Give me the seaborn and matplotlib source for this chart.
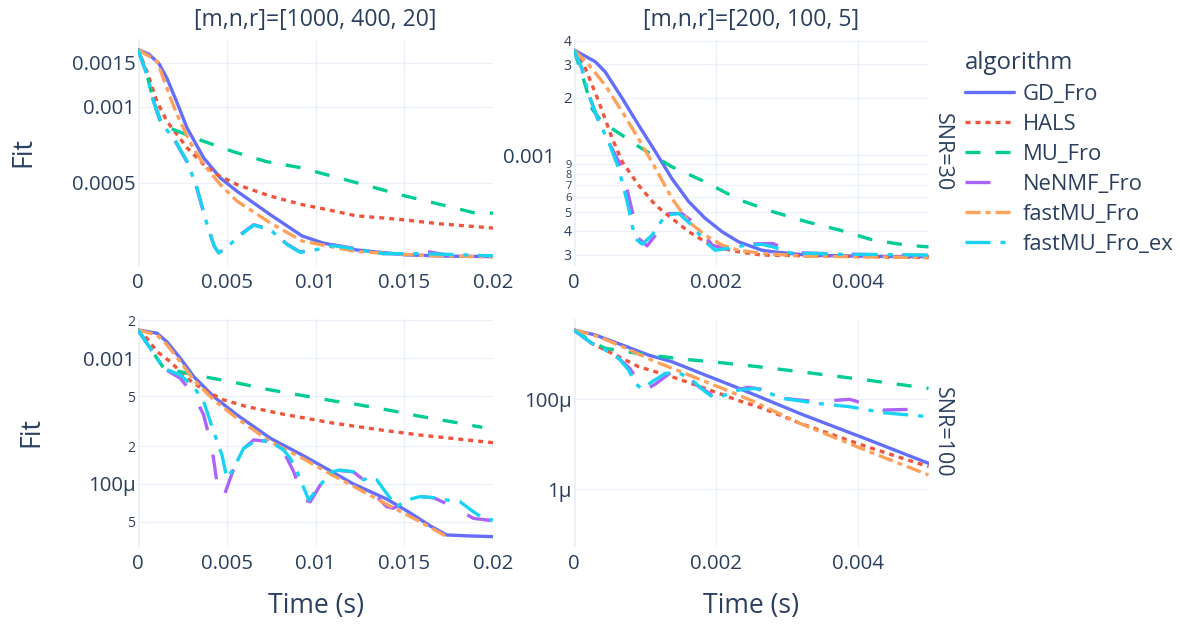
import matplotlib
matplotlib.use("Agg")
import matplotlib.pyplot as plt
import seaborn as sns
import pandas as pd
from matplotlib.lines import Line2D
from matplotlib.ticker import NullLocator
from matplotlib.transforms import ScaledTranslation

# ---------------- labels ----------------
algorithms = ["GD_Fro", "HALS", "MU_Fro", "NeNMF_Fro", "fastMU_Fro", "fastMU_Fro_ex"]
col_titles = ["[m,n,r]=[1000, 400, 20]", "[m,n,r]=[200, 100, 5]"]
row_titles = ["SNR=30", "SNR=100"]
x_label = "Time (s)"
y_label = "Fit"

xticks_left = [0, 0.005, 0.01, 0.015, 0.02]
xticklabels_left = ["0", "0.005", "0.01", "0.015", "0.02"]
xticks_right = [0, 0.002, 0.004]
xticklabels_right = ["0", "0.002", "0.004"]

yticks_tl = [1.5e-3, 1e-3, 5e-4]
yticklabels_tl = ["0.0015", "0.001", "0.0005"]
yticks_tr = [4e-3, 3e-3, 2e-3, 1e-3, 9e-4, 8e-4, 7e-4, 6e-4, 5e-4, 4e-4, 3e-4]
yticklabels_tr = ["4", "3", "2", "0.001", "9", "8", "7", "6", "5", "4", "3"]
yticks_bl = [2e-3, 1e-3, 5e-4, 2e-4, 1e-4, 5e-5]
yticklabels_bl = ["2", "0.001", "5", "2", "100μ", "5"]
yticks_br = [1e-4, 1e-6]
yticklabels_br = ["100μ", "1μ"]

# ---------------- data: top-left (SNR=30, [1000,400,20]) ----------------
tl_gd_t = [0, 0.0006, 0.00117, 0.00163, 0.0022, 0.00276, 0.0037, 0.00464, 0.00558, 0.00745, 0.00924, 0.0104, 0.0123, 0.0151, 0.0175, 0.02]
tl_gd_fit = [1.69e-3, 1.62e-3, 1.49e-3, 1.30e-3, 1.04e-3, 8.26e-4, 6.28e-4, 5.23e-4, 4.63e-4, 3.74e-4, 3.08e-4, 2.89e-4, 2.71e-4, 2.59e-4, 2.56e-4, 2.55e-4]
tl_hals_t = [0, 0.00051, 0.00107, 0.00163, 0.00276, 0.0037, 0.00445, 0.00558, 0.00745, 0.00924, 0.0104, 0.0123, 0.0146, 0.017, 0.02]
tl_hals_fit = [1.69e-3, 1.38e-3, 1.05e-3, 8.78e-4, 6.89e-4, 5.91e-4, 5.39e-4, 4.92e-4, 4.43e-4, 4.10e-4, 3.95e-4, 3.70e-4, 3.59e-4, 3.44e-4, 3.31e-4]
tl_mu_t = [0, 0.00051, 0.00088, 0.00132, 0.0016, 0.00348, 0.00536, 0.00724, 0.00912, 0.011, 0.0129, 0.0148, 0.0167, 0.0189, 0.02]
tl_mu_fit = [1.69e-3, 1.34e-3, 1.05e-3, 8.48e-4, 8.35e-4, 7.40e-4, 6.65e-4, 6.07e-4, 5.75e-4, 5.30e-4, 4.88e-4, 4.48e-4, 4.16e-4, 3.81e-4, 3.79e-4]
tl_nenmf_t = [0, 0.00051, 0.00088, 0.00135, 0.00201, 0.00276, 0.00332, 0.00389, 0.0043, 0.00455, 0.00501, 0.00558, 0.00652, 0.00745, 0.00839, 0.00913, 0.01007, 0.0110, 0.0123, 0.0138, 0.0155, 0.0163, 0.0175, 0.02]
tl_nenmf_fit = [1.69e-3, 1.34e-3, 1.05e-3, 8.51e-4, 7.50e-4, 6.05e-4, 4.75e-4, 3.40e-4, 2.80e-4, 2.64e-4, 2.78e-4, 3.05e-4, 3.41e-4, 3.27e-4, 2.86e-4, 2.66e-4, 2.73e-4, 2.84e-4, 2.74e-4, 2.62e-4, 2.62e-4, 2.67e-4, 2.58e-4, 2.56e-4]
tl_fast_t = [0, 0.00107, 0.00182, 0.0022, 0.0029, 0.0037, 0.00464, 0.00558, 0.00745, 0.00924, 0.0123, 0.0159, 0.02]
tl_fast_fit = [1.69e-3, 1.52e-3, 1.09e-3, 9.32e-4, 7.30e-4, 5.91e-4, 4.92e-4, 4.23e-4, 3.47e-4, 2.94e-4, 2.67e-4, 2.58e-4, 2.54e-4]
tl_fastex_t = [0, 0.00051, 0.00088, 0.00135, 0.00201, 0.00276, 0.00332, 0.00389, 0.0043, 0.00455, 0.00501, 0.00558, 0.00652, 0.00745, 0.00839, 0.00913, 0.01007, 0.0110, 0.0123, 0.0138, 0.0161, 0.0198, 0.02]
tl_fastex_fit = [1.69e-3, 1.34e-3, 1.05e-3, 8.51e-4, 7.54e-4, 6.09e-4, 4.78e-4, 3.42e-4, 2.80e-4, 2.64e-4, 2.77e-4, 3.03e-4, 3.40e-4, 3.26e-4, 2.85e-4, 2.65e-4, 2.72e-4, 2.82e-4, 2.73e-4, 2.62e-4, 2.62e-4, 2.57e-4, 2.57e-4]

# ---------------- data: top-right (SNR=30, [200,100,5]) ----------------
tr_gd_t = [0, 0.0003, 0.00044, 0.00068, 0.00091, 0.00115, 0.00138, 0.00162, 0.00185, 0.00209, 0.00232, 0.00265, 0.00281, 0.00328, 0.004, 0.005]
tr_gd_fit = [3.57e-3, 3.10e-3, 2.74e-3, 1.99e-3, 1.44e-3, 1.04e-3, 7.53e-4, 5.68e-4, 4.65e-4, 3.95e-4, 3.50e-4, 3.16e-4, 3.10e-4, 2.98e-4, 2.94e-4, 2.92e-4]
tr_hals_t = [0, 0.00016, 0.00035, 0.00054, 0.00068, 0.00091, 0.00115, 0.00138, 0.00162, 0.00185, 0.00209, 0.00232, 0.00265, 0.005]
tr_hals_fit = [3.57e-3, 2.86e-3, 1.91e-3, 1.22e-3, 9.22e-4, 6.95e-4, 5.45e-4, 4.65e-4, 3.95e-4, 3.50e-4, 3.23e-4, 3.10e-4, 2.98e-4, 2.89e-4]
tr_mu_t = [0, 0.00016, 0.00025, 0.00039, 0.00068, 0.00091, 0.00115, 0.00138, 0.00185, 0.00234, 0.00281, 0.00328, 0.00375, 0.00422, 0.00469, 0.005]
tr_mu_fit = [3.57e-3, 2.33e-3, 1.76e-3, 1.50e-3, 1.27e-3, 1.11e-3, 9.80e-4, 8.68e-4, 7.23e-4, 5.80e-4, 5.03e-4, 4.46e-4, 4.03e-4, 3.57e-4, 3.36e-4, 3.29e-4]
tr_nenmf_t = [0, 0.00011, 0.00021, 0.00035, 0.00049, 0.00068, 0.00079, 0.00091, 0.00103, 0.00115, 0.00134, 0.00152, 0.00171, 0.00195, 0.00213, 0.0024, 0.0028, 0.003, 0.0032, 0.00389, 0.005]
tr_nenmf_fit = [3.57e-3, 2.86e-3, 2.07e-3, 1.50e-3, 1.17e-3, 8.51e-4, 5.68e-4, 3.65e-4, 3.33e-4, 3.79e-4, 4.93e-4, 4.93e-4, 4.37e-4, 3.36e-4, 3.20e-4, 3.40e-4, 3.43e-4, 3.20e-4, 3.06e-4, 3.01e-4, 2.96e-4]
tr_fast_t = [0, 0.00021, 0.00044, 0.00068, 0.00091, 0.00115, 0.00138, 0.00162, 0.00185, 0.00209, 0.00232, 0.00265, 0.00327, 0.005]
tr_fast_fit = [3.57e-3, 2.98e-3, 2.33e-3, 1.69e-3, 1.22e-3, 8.51e-4, 5.92e-4, 4.46e-4, 3.79e-4, 3.36e-4, 3.16e-4, 3.04e-4, 2.94e-4, 2.89e-4]
tr_fastex_t = [0, 0.00011, 0.00021, 0.00035, 0.00049, 0.00063, 0.00075, 0.00086, 0.00096, 0.0011, 0.00129, 0.00148, 0.00166, 0.00185, 0.00199, 0.00218, 0.00242, 0.00265, 0.00281, 0.00305, 0.00375, 0.005]
tr_fastex_fit = [3.57e-3, 2.86e-3, 2.07e-3, 1.50e-3, 1.17e-3, 8.51e-4, 5.68e-4, 3.65e-4, 3.40e-4, 3.79e-4, 4.83e-4, 4.93e-4, 4.28e-4, 3.50e-4, 3.16e-4, 3.23e-4, 3.36e-4, 3.39e-4, 3.29e-4, 3.06e-4, 3.01e-4, 2.98e-4]

# ---------------- data: bottom-left (SNR=100, [1000,400,20]) ----------------
bl_gd_t = [0, 0.00107, 0.00163, 0.00238, 0.00314, 0.00426, 0.00558, 0.00745, 0.00934, 0.01093, 0.01213, 0.0140, 0.01532, 0.01645, 0.01739, 0.0187, 0.02]
bl_gd_fit = [1.68e-3, 1.58e-3, 1.35e-3, 1.00e-3, 7.14e-4, 4.95e-4, 3.54e-4, 2.31e-4, 1.67e-4, 1.25e-4, 1.0e-4, 7.6e-5, 5.9e-5, 4.65e-5, 3.93e-5, 3.86e-5, 3.81e-5]
bl_hals_t = [0, 0.00051, 0.00107, 0.00182, 0.00276, 0.0037, 0.00483, 0.00614, 0.00839, 0.01093, 0.01213, 0.0140, 0.01589, 0.01814, 0.02]
bl_hals_fit = [1.68e-3, 1.44e-3, 1.13e-3, 9.4e-4, 6.93e-4, 5.6e-4, 4.66e-4, 4.12e-4, 3.54e-4, 3.06e-4, 2.89e-4, 2.65e-4, 2.45e-4, 2.27e-4, 2.13e-4]
bl_mu_t = [0, 0.00069, 0.00145, 0.0037, 0.00537, 0.00745, 0.0110, 0.0123, 0.0144, 0.0159, 0.0178, 0.0194]
bl_mu_fit = [1.68e-3, 1.20e-3, 8.32e-4, 7.14e-4, 6.45e-4, 5.6e-4, 4.58e-4, 4.3e-4, 3.8e-4, 3.45e-4, 3.1e-4, 2.82e-4]
bl_nenmf_t = [0, 0.00069, 0.00107, 0.00145, 0.00238, 0.00314, 0.0037, 0.00417, 0.00436, 0.00455, 0.00483, 0.0052, 0.00576, 0.00652, 0.00745, 0.00821, 0.00877, 0.00934, 0.00971, 0.01027, 0.0110, 0.01213, 0.01307, 0.01363, 0.01401, 0.01438, 0.01514, 0.01589, 0.01664, 0.01776, 0.01889, 0.02]
bl_nenmf_fit = [1.68e-3, 1.20e-3, 1.0e-3, 8.32e-4, 6.93e-4, 5.11e-4, 3.54e-4, 1.92e-4, 1.25e-4, 8.18e-5, 7.93e-5, 1.11e-4, 1.81e-4, 2.24e-4, 2.17e-4, 1.81e-4, 1.25e-4, 7.46e-5, 7.23e-5, 9.82e-5, 1.29e-4, 1.25e-4, 9.82e-5, 7.46e-5, 6.6e-5, 6.41e-5, 7.23e-5, 7.93e-5, 7.78e-5, 6.6e-5, 5.33e-5, 5.10e-5]
bl_fast_t = [0, 0.00107, 0.00163, 0.00238, 0.00314, 0.00426, 0.00558, 0.00745, 0.00934, 0.01093, 0.01213, 0.0140, 0.0159, 0.01748]
bl_fast_fit = [1.68e-3, 1.53e-3, 1.28e-3, 9.40e-4, 6.72e-4, 4.66e-4, 3.33e-4, 2.17e-4, 1.58e-4, 1.18e-4, 9.6e-5, 6.9e-5, 5.0e-5, 3.75e-5]
bl_fastex_t = [0, 0.00069, 0.00145, 0.00238, 0.00314, 0.0037, 0.00426, 0.00473, 0.00501, 0.00539, 0.00595, 0.0067, 0.00745, 0.00821, 0.00858, 0.00896, 0.00962, 0.01027, 0.01093, 0.01138, 0.01213, 0.0127, 0.01307, 0.01345, 0.0140, 0.01458, 0.01514, 0.01589, 0.01664, 0.01739, 0.01814, 0.01889, 0.01946, 0.02]
bl_fastex_fit = [1.68e-3, 1.20e-3, 8.32e-4, 7.36e-4, 5.94e-4, 4.52e-4, 2.61e-4, 1.70e-4, 1.11e-4, 1.33e-4, 1.92e-4, 2.24e-4, 2.17e-4, 1.86e-4, 1.60e-4, 1.25e-4, 7.46e-5, 9.82e-5, 1.25e-4, 1.29e-4, 1.25e-4, 1.08e-4, 1.13e-4, 1.08e-4, 8.43e-5, 6.60e-5, 7.46e-5, 7.93e-5, 7.78e-5, 7.46e-5, 7.23e-5, 6.02e-5, 5.33e-5, 5.17e-5]

# ---------------- data: bottom-right (SNR=100, [200,100,5]) ----------------
br_gd_t = [0, 0.0003, 0.00068, 0.00105, 0.00138, 0.00185, 0.00225, 0.00265, 0.00319, 0.00413, 0.005]
br_gd_fit = [3.47e-3, 2.69e-3, 1.61e-3, 9.64e-4, 6.85e-4, 3.47e-4, 1.96e-4, 1.08e-4, 4.8e-5, 1.30e-5, 3.78e-6]
br_hals_t = [0, 0.00025, 0.00068, 0.00091, 0.00138, 0.00185, 0.00232, 0.00265, 0.00319, 0.00413, 0.005]
br_hals_fit = [3.47e-3, 1.75e-3, 8.15e-4, 5.30e-4, 3.18e-4, 1.75e-4, 9.4e-5, 6.4e-5, 2.93e-5, 8.85e-6, 3.18e-6]
br_mu_t = [0, 0.00025, 0.00044, 0.00105, 0.00162, 0.002, 0.0026, 0.00319, 0.00413, 0.005]
br_mu_fit = [3.47e-3, 1.90e-3, 1.36e-3, 9.6e-4, 7.6e-4, 6.7e-4, 5.3e-4, 4.1e-4, 2.68e-4, 1.75e-4]
br_nenmf_t = [0, 0.00025, 0.00044, 0.00063, 0.00079, 0.00091, 0.00101, 0.00115, 0.00138, 0.00157, 0.00176, 0.00195, 0.00215, 0.00245, 0.00272, 0.00295, 0.00342, 0.00389, 0.0042, 0.00436, 0.0048, 0.005]
br_nenmf_fit = [3.47e-3, 1.75e-3, 1.25e-3, 8.15e-4, 4.8e-4, 2.5e-4, 1.61e-4, 2.2e-4, 4.1e-4, 3.6e-4, 1.91e-4, 1.25e-4, 1.4e-4, 1.85e-4, 1.61e-4, 1.05e-4, 8.85e-5, 1.0e-4, 7.0e-5, 5.78e-5, 6.0e-5, 5.3e-5]
br_fast_t = [0, 0.00035, 0.00068, 0.00115, 0.00162, 0.00209, 0.00251, 0.00319, 0.00413, 0.005]
br_fast_fit = [3.47e-3, 2.46e-3, 1.48e-3, 6.85e-4, 3.47e-4, 1.75e-4, 9.3e-5, 2.9e-5, 7.2e-6, 2.08e-6]
br_fastex_t = [0, 0.00025, 0.00044, 0.00063, 0.00077, 0.00086, 0.00096, 0.0011, 0.00129, 0.00148, 0.00166, 0.00185, 0.00195, 0.00209, 0.00232, 0.00256, 0.00295, 0.00342, 0.00389, 0.00436, 0.005]
br_fastex_fit = [3.47e-3, 1.75e-3, 1.25e-3, 8.15e-4, 4.48e-4, 2.27e-4, 1.70e-4, 2.46e-4, 3.78e-4, 3.90e-4, 2.68e-4, 1.48e-4, 1.14e-4, 1.18e-4, 1.61e-4, 1.75e-4, 1.05e-4, 8.15e-5, 6.85e-5, 5.04e-5, 4.10e-5]

# y-axis ranges per panel
ylim_tl = (2.34e-4, 1.86e-3)
ylim_tr = (2.61e-4, 4.08e-3)
ylim_bl = (3.17e-5, 2.07e-3)
ylim_br = (5.3e-8, 6.25e-3)
xlim_left = (0, 0.02)
xlim_right = (0, 0.005)

# ---------------- build table ----------------
panel_series = {
    "tl": [(tl_gd_t, tl_gd_fit), (tl_hals_t, tl_hals_fit), (tl_mu_t, tl_mu_fit),
           (tl_nenmf_t, tl_nenmf_fit), (tl_fast_t, tl_fast_fit), (tl_fastex_t, tl_fastex_fit)],
    "tr": [(tr_gd_t, tr_gd_fit), (tr_hals_t, tr_hals_fit), (tr_mu_t, tr_mu_fit),
           (tr_nenmf_t, tr_nenmf_fit), (tr_fast_t, tr_fast_fit), (tr_fastex_t, tr_fastex_fit)],
    "bl": [(bl_gd_t, bl_gd_fit), (bl_hals_t, bl_hals_fit), (bl_mu_t, bl_mu_fit),
           (bl_nenmf_t, bl_nenmf_fit), (bl_fast_t, bl_fast_fit), (bl_fastex_t, bl_fastex_fit)],
    "br": [(br_gd_t, br_gd_fit), (br_hals_t, br_hals_fit), (br_mu_t, br_mu_fit),
           (br_nenmf_t, br_nenmf_fit), (br_fast_t, br_fast_fit), (br_fastex_t, br_fastex_fit)],
}
rows = []
for panel, series in panel_series.items():
    for alg, (ts, fs) in zip(algorithms, series):
        for t, f in zip(ts, fs):
            rows.append({"panel": panel, "algorithm": alg, "time": t, "fit": f})
df = pd.DataFrame(rows)

# ---------------- style ----------------
sns.set_theme(style="white")
plt.rcParams["font.family"] = ["Open Sans", "DejaVu Sans"]
TEXT = "#2a3f5f"
GRID = "#EBF0F8"
palette = dict(zip(algorithms, ["#636EFA", "#EF553B", "#00CC96", "#AB63FA", "#FFA15A", "#19D3F3"]))
dash_map = dict(zip(algorithms, ["", (1.5, 1.5), (4.5, 4.5), (7.5, 7.5), (4.5, 1.5, 1.5, 1.5), (7.5, 3, 1.5, 3)]))
LW = 2.4

def px2pt(p):
    return p * 72 / 100.0

FS_TICK = px2pt(20.5)
FS_AX = px2pt(26.5)
FS_TITLE = px2pt(23)
FS_ROW = px2pt(21.5)
FS_LEG = px2pt(22)
FS_LEGT = px2pt(24)

W, H = 1180, 624
fig = plt.figure(figsize=(W / 100, H / 100), dpi=100)

def add_ax(x0, y0, x1, y1):
    return fig.add_axes([x0 / W, 1 - y1 / H, (x1 - x0) / W, (y1 - y0) / H])

axes = {
    "tl": add_ax(138, 39, 493, 266),
    "tr": add_ax(574, 39, 928.5, 266),
    "bl": add_ax(138, 318.5, 493, 546.7),
    "br": add_ax(574, 318.5, 928.5, 546.7),
}
# per-label font sizes (px); None = normal tick size
label_sizes = {
    "tl": [None, None, None],
    "tr": [14, 14, 15, None, 11, 11, 11, 11.5, 12.5, 14, 14],
    "bl": [14, None, 14, 14, None, 14],
    "br": [None, None],
}
cfg = {
    "tl": (xlim_left, ylim_tl, xticks_left, xticklabels_left, yticks_tl, yticklabels_tl),
    "tr": (xlim_right, ylim_tr, xticks_right, xticklabels_right, yticks_tr, yticklabels_tr),
    "bl": (xlim_left, ylim_bl, xticks_left, xticklabels_left, yticks_bl, yticklabels_bl),
    "br": (xlim_right, ylim_br, xticks_right, xticklabels_right, yticks_br, yticklabels_br),
}

for key, ax in axes.items():
    sub = df[df["panel"] == key]
    ax.set_yscale("log")
    sns.lineplot(data=sub, x="time", y="fit", hue="algorithm", style="algorithm",
                 hue_order=algorithms, style_order=algorithms, palette=palette,
                 dashes=dash_map, linewidth=LW, ax=ax, legend=False, sort=True,
                 estimator=None)
    xl, yl, xt, xtl, yt, ytl = cfg[key]
    ax.set_xlim(*xl)
    ax.set_ylim(*yl)
    ax.set_xticks(xt, xtl)
    ax.set_yticks(yt, ytl)
    ax.yaxis.set_minor_locator(NullLocator())
    ax.xaxis.set_minor_locator(NullLocator())
    ax.set_xlabel("")
    ax.set_ylabel("")
    ax.grid(True, color=GRID, linewidth=px2pt(1.2))
    ax.set_axisbelow(True)
    ax.axvline(0, color=GRID, linewidth=px2pt(2.5), zorder=0.5)
    for s in ax.spines.values():
        s.set_visible(False)
    ax.tick_params(axis="both", length=0, colors=TEXT, labelsize=FS_TICK)
    ax.tick_params(axis="y", pad=px2pt(2.5))
    ax.tick_params(axis="x", pad=px2pt(7))
    ax.set_facecolor("white")
    for lab, sz in zip(ax.get_yticklabels(), label_sizes[key]):
        if sz is not None:
            lab.set_fontsize(px2pt(sz))
    if key == "tr":
        lab = ax.get_yticklabels()[3]
        lab.set_transform(lab.get_transform() + ScaledTranslation(-16 / 100, 0, fig.dpi_scale_trans))

# column titles, row titles, axis titles
fig.text(315.5 / W, 1 - 20 / H, col_titles[0], ha="center", va="center", fontsize=FS_TITLE, color=TEXT)
fig.text(751 / W, 1 - 20 / H, col_titles[1], ha="center", va="center", fontsize=FS_TITLE, color=TEXT)
fig.text(942 / W, 1 - 152.5 / H, row_titles[0], ha="center", va="center", rotation=-90, fontsize=FS_ROW, color=TEXT)
fig.text(942 / W, 1 - 432 / H, row_titles[1], ha="center", va="center", rotation=-90, fontsize=FS_ROW, color=TEXT)
fig.text(23 / W, 1 - 152.5 / H, y_label, ha="center", va="center", rotation=90, fontsize=FS_AX, color=TEXT)
fig.text(31 / W, 1 - 432 / H, y_label, ha="center", va="center", rotation=90, fontsize=FS_AX, color=TEXT)
fig.text(315.5 / W, 1 - 606 / H, x_label, ha="center", va="center", fontsize=FS_AX, color=TEXT)
fig.text(751 / W, 1 - 606 / H, x_label, ha="center", va="center", fontsize=FS_AX, color=TEXT)

# legend
handles = []
for alg in algorithms:
    d = dash_map[alg]
    h = Line2D([], [], color=palette[alg], linewidth=LW)
    if d:
        h.set_dashes(d)
    handles.append(h)
leg = fig.legend(handles, algorithms, loc="upper left", bbox_to_anchor=(965 / W, 1 - 51 / H),
                 frameon=False, title="algorithm", fontsize=FS_LEG, title_fontsize=FS_LEGT,
                 handlelength=2.23, handletextpad=0.41, labelspacing=0.41, borderpad=0,
                 borderaxespad=0, alignment="left")
for t in leg.get_texts():
    t.set_color(TEXT)
leg.get_title().set_color(TEXT)

fig.savefig("out.png", dpi=100, facecolor="white")
